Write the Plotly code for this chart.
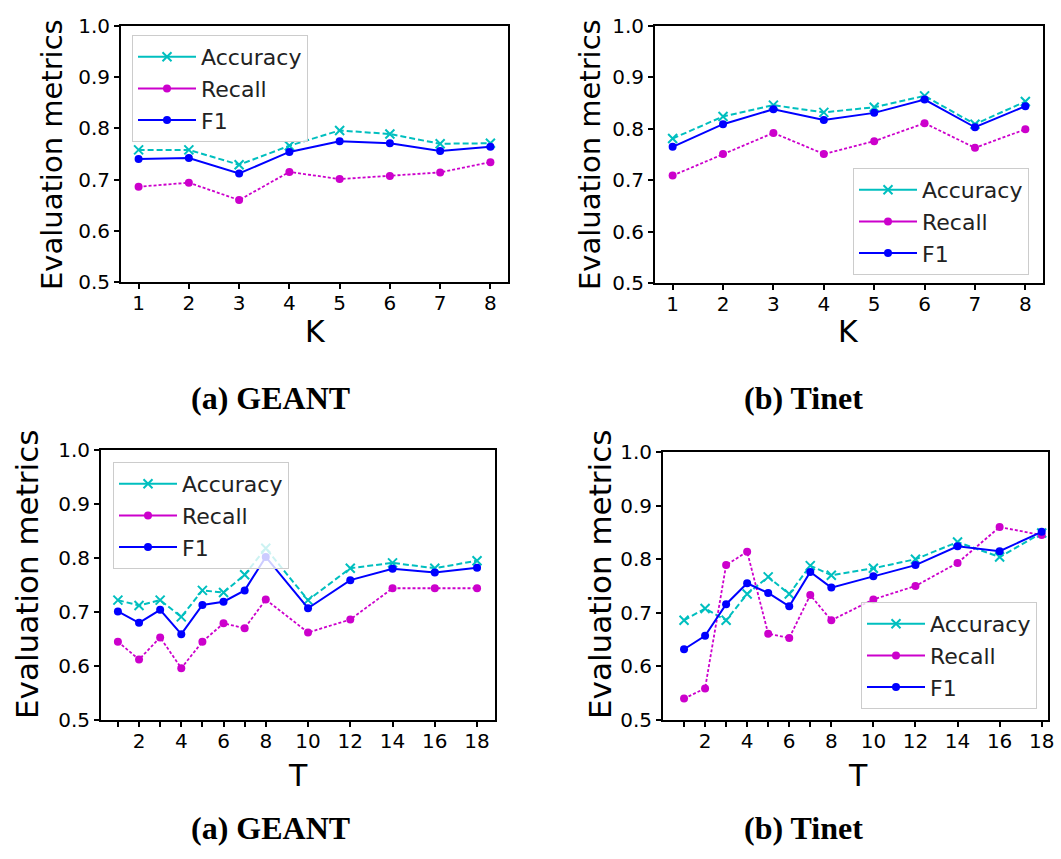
import plotly.graph_objects as go

W, H = 1061, 859

# ---------------- data ----------------
K = [1, 2, 3, 4, 5, 6, 7, 8]
T = [1, 2, 3, 4, 5, 6, 7, 8, 10, 12, 14, 16, 18]
T_labels = ["", "2", "", "4", "", "6", "", "8", "10", "12", "14", "16", "18"]

geant_k_acc = [0.758, 0.758, 0.729, 0.766, 0.796, 0.789, 0.770, 0.771]
geant_k_rec = [0.686, 0.694, 0.660, 0.715, 0.701, 0.707, 0.714, 0.734]
geant_k_f1 = [0.740, 0.742, 0.712, 0.754, 0.775, 0.771, 0.756, 0.764]

tinet_k_acc = [0.781, 0.824, 0.846, 0.832, 0.842, 0.864, 0.809, 0.853]
tinet_k_rec = [0.709, 0.751, 0.792, 0.751, 0.776, 0.811, 0.763, 0.799]
tinet_k_f1 = [0.765, 0.809, 0.838, 0.817, 0.831, 0.857, 0.803, 0.844]

geant_t_acc = [0.722, 0.712, 0.722, 0.691, 0.740, 0.736, 0.769, 0.818, 0.722, 0.781, 0.791, 0.781, 0.795]
geant_t_rec = [0.645, 0.612, 0.653, 0.596, 0.645, 0.679, 0.670, 0.723, 0.662, 0.686, 0.744, 0.744, 0.744]
geant_t_f1 = [0.701, 0.680, 0.704, 0.659, 0.713, 0.719, 0.740, 0.802, 0.707, 0.759, 0.780, 0.773, 0.782]

tinet_t_acc = [0.686, 0.708, 0.686, 0.735, 0.767, 0.735, 0.788, 0.770, 0.783, 0.800, 0.832, 0.804, 0.849]
tinet_t_rec = [0.540, 0.559, 0.789, 0.814, 0.661, 0.653, 0.733, 0.686, 0.725, 0.750, 0.793, 0.860, 0.845]
tinet_t_f1 = [0.632, 0.657, 0.716, 0.755, 0.737, 0.712, 0.776, 0.747, 0.768, 0.789, 0.824, 0.815, 0.851]

series_names = ["Accuracy", "Recall", "F1"]

# ---------------- styles ----------------
C_ACC = "#00bfbf"
C_REC = "#cc00cc"
C_F1 = "#0000ff"
FONT = "DejaVu Sans"
SERIF = "Liberation Serif"


def xd(a, b):
    return [a / W, b / W]


def yd(top, bottom):
    return [1 - bottom / H, 1 - top / H]


fig = go.Figure()

panels = [
    (K, geant_k_acc, geant_k_rec, geant_k_f1, "", "legend", (121, 508), (26, 282), [0.65, 8.35]),
    (K, tinet_k_acc, tinet_k_rec, tinet_k_f1, "2", "legend2", (655, 1043), (26, 283), [0.65, 8.35]),
    (T, geant_t_acc, geant_t_rec, geant_t_f1, "3", "legend3", (101, 495), (450, 720), [0.2, 18.85]),
    (T, tinet_t_acc, tinet_t_rec, tinet_t_f1, "4", "legend4", (663, 1048), (452, 720), [0.0, 18.3]),
]

legend_pos = {
    "legend": (132, 35),
    "legend2": (853, 168),
    "legend3": (113, 462),
    "legend4": (861, 602),
}

acc_marker = dict(symbol="x-thin", size=9, color=C_ACC, line=dict(color=C_ACC, width=2))
rec_marker = dict(symbol="circle", size=8, color=C_REC)
f1_marker = dict(symbol="circle", size=8, color=C_F1)

for xs, acc, rec, f1, sfx, leg, xdom, ydom, xr in panels:
    xa = "x" + sfx
    ya = "y" + sfx
    fig.add_trace(go.Scatter(
        x=xs, y=acc, name=series_names[0], mode="lines+markers",
        xaxis=xa, yaxis=ya, showlegend=False,
        line=dict(color=C_ACC, width=2, dash="6px,3px"), marker=acc_marker,
    ))
    fig.add_trace(go.Scatter(
        x=xs, y=rec, name=series_names[1], mode="lines+markers",
        xaxis=xa, yaxis=ya, showlegend=False,
        line=dict(color=C_REC, width=1.8, dash="3px,2px"), marker=rec_marker,
    ))
    fig.add_trace(go.Scatter(
        x=xs, y=f1, name=series_names[2], mode="lines+markers",
        xaxis=xa, yaxis=ya, showlegend=False,
        line=dict(color=C_F1, width=2), marker=f1_marker,
    ))
    # legend entries drawn with solid lines, as in the reference legend
    for nm, col, mk in [(series_names[0], C_ACC, acc_marker),
                        (series_names[1], C_REC, rec_marker),
                        (series_names[2], C_F1, f1_marker)]:
        fig.add_trace(go.Scatter(
            x=[None], y=[None], name=nm, mode="lines+markers",
            xaxis=xa, yaxis=ya, legend=leg, showlegend=True, hoverinfo="skip",
            line=dict(color=col, width=2), marker=mk,
        ))

    axis_common = dict(
        showline=True, mirror=True, linecolor="black", linewidth=2,
        ticks="outside", ticklen=5, tickwidth=2, tickcolor="black",
        showgrid=False, zeroline=False, automargin=False,
        tickfont=dict(family=FONT, size=20, color="black"),
    )
    xkey = "xaxis" + sfx
    ykey = "yaxis" + sfx
    xcfg = dict(axis_common, domain=xd(*xdom), anchor=ya, range=xr, ticklabelstandoff=-3)
    if xs is T:
        xcfg.update(tickmode="array", tickvals=T, ticktext=T_labels)
    else:
        xcfg.update(tickmode="array", tickvals=K, ticktext=[str(k) for k in K])
    ycfg = dict(axis_common, domain=yd(*ydom), anchor=xa, range=[0.5, 1.0],
                tickmode="array", tickvals=[0.5, 0.6, 0.7, 0.8, 0.9, 1.0], tickformat=".1f")
    fig.update_layout({xkey: xcfg, ykey: ycfg})

    lx, ly = legend_pos[leg]
    fig.update_layout({leg: dict(
        x=lx / W, y=1 - ly / H, xanchor="left", yanchor="top",
        bgcolor="rgba(255,255,255,0.8)", bordercolor="#cccccc", borderwidth=1,
        font=dict(family=FONT, size=22, color="#222222"),
        itemwidth=58, tracegroupgap=0,
    )})

annotations = []
for xc, yc, size in [(52, 155, 29), (590, 155, 29), (27, 575, 31), (600, 575, 31)]:
    annotations.append(dict(
        text="Evaluation metrics", x=xc / W, y=1 - yc / H, xref="paper", yref="paper",
        textangle=-90, showarrow=False, xanchor="center", yanchor="middle",
        font=dict(family=FONT, size=size, color="black"),
    ))
for txt, xc, yc in [("K", 315, 332), ("K", 848, 332), ("T", 298, 775), ("T", 858, 775)]:
    annotations.append(dict(
        text=txt, x=xc / W, y=1 - yc / H, xref="paper", yref="paper",
        showarrow=False, xanchor="center", yanchor="middle",
        font=dict(family=FONT, size=30, color="black"),
    ))
for txt, xc, yc in [("(a) GEANT", 270, 398), ("(b) Tinet", 803, 398),
                    ("(a) GEANT", 270, 828), ("(b) Tinet", 803, 828)]:
    annotations.append(dict(
        text="<b>" + txt + "</b>", x=xc / W, y=1 - yc / H, xref="paper", yref="paper",
        showarrow=False, xanchor="center", yanchor="middle",
        font=dict(family=SERIF, size=32, color="black"),
    ))

fig.update_layout(
    width=W, height=H,
    margin=dict(l=0, r=0, t=0, b=0, autoexpand=False),
    paper_bgcolor="white", plot_bgcolor="white",
    annotations=annotations,
    showlegend=True,
)

fig.write_html("out.html")
